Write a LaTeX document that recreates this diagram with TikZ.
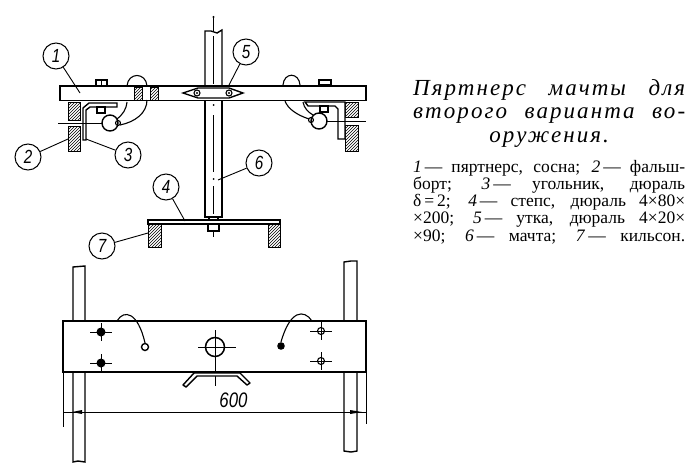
\documentclass[tikz,border=0pt]{standalone}
\usepackage{fontspec}
\setmainfont{Liberation Serif}
\setsansfont{Liberation Sans}
\newfontfamily\letratitulo[LetterSpace=9]{Liberation Serif}
\usetikzlibrary{patterns}
\newcommand{\cifra}[1]{\scalebox{.8}[1]{\sffamily\itshape\fontsize{19}{19}\selectfont #1}}
\begin{document}
\begin{tikzpicture}[x=1pt,y=-1pt]
\tikzset{
    pieza/.style={draw, line width=1.4pt, fill=white},
    rayado/.style={draw, line width=1pt, pattern=north east lines},
    eje/.style={line width=0.6pt},
    cable/.style={line width=1.1pt},
    numero/.style={draw, circle, line width=1pt, minimum size=26pt, inner sep=0pt, fill=white},
    guia/.style={line width=0.9pt},
    titulo/.style={inner sep=0pt, align=left, font=\letratitulo\itshape\fontsize{23}{23.5}\selectfont},
    leyenda/.style={inner sep=0pt, align=left, font=\fontsize{17.5}{17.2}\selectfont}
}
\useasboundingbox (0,0) rectangle (700,471);
% vista superior
\draw[pieza] (205,31) -- (205,86) -- (222,86) -- (222,30) -- (217,33) -- (211,31) -- cycle;
\draw[eje] (213.5,17) -- (213.5,31);
\fill (213.5,17) circle (1.2pt);
\draw[eje] (213.5,36) -- (213.5,84);
\draw[pieza] (205,100) rectangle (222,217);
\fill (213.5,105) circle (1pt) (213.5,179) circle (1pt);
\draw[eje] (213.5,115) -- (213.5,172) (213.5,186) -- (213.5,214);
% palmejar
\draw[pieza] (60,86) rectangle (366,100.5);
\draw[pieza] (96,80) rectangle (107,86);
\draw[eje] (101.5,80) -- (101.5,86);
\draw[pieza] (319,80) rectangle (331,85);
\draw[rayado] (134,87) rectangle (142,100);
\draw[rayado] (150,87) rectangle (158,100);
\draw[pieza] (183,93) -- (198,88) -- (229,88) -- (243,93) -- (229,98) -- (198,98) -- cycle;
\draw[cable] (197,93) circle (3pt);
\draw[cable] (229,93) circle (3pt);
\fill (197,93) circle (1.2pt) (229,93) circle (1.2pt);
% izquierda
\draw[rayado] (68,102) rectangle (80,120);
\draw[rayado] (68,126) rectangle (80,151);
\draw[pieza] (117,103) -- (89,103) -- (83,108) -- (83,140) -- (86,140) -- (86,110) -- (90,107) -- (117,107) -- cycle;
\draw[pieza] (97,107) rectangle (105,113);
\draw[eje] (58,123) -- (102,123);
\draw[pieza] (110,123) circle (8pt);
\draw[cable] (118,123) circle (2.5pt);
\draw[cable] (127,86) .. controls (128,72) and (146,72) .. (147,86);
\draw[cable] (147,100) .. controls (147,113) and (135,122) .. (120,125);
\draw[cable] (127,102) .. controls (126,110) and (123,114) .. (117,119);
% derecha
\draw[rayado] (345,102) rectangle (358,117);
\draw[rayado] (345,125) rectangle (358,151);
\draw[pieza] (305,102) -- (345,102) -- (345,139) -- (338,139) -- (338,109) -- (335,106) -- (308,106) -- cycle;
\draw[pieza] (320,106) rectangle (328,112);
\draw[eje] (326,121) -- (366,121);
\draw[pieza] (319,121) circle (8pt);
\draw[cable] (311,120) circle (2.5pt);
\draw[cable] (283,85) .. controls (284,72) and (299,72) .. (300,85);
\draw[cable] (285,101) .. controls (288,109) and (297,115) .. (309,119);
\draw[cable] (303,102) .. controls (304,108) and (308,112) .. (313,115);
% carlinga
\draw[pieza] (148,220) rectangle (280,224);
\draw[rayado] (148,224) rectangle (161,247);
\draw[rayado] (268,224) rectangle (280,247);
\draw[pieza] (209,217) rectangle (218,220);
\draw[pieza] (208,224) rectangle (219,231);
\draw[eje] (213.5,231) -- (213.5,237);
% vista inferior
\draw[pieza] (73,267) -- (85,266) -- (85,462) -- (78,461) -- (73,462) -- cycle;
\draw[pieza] (344,262) -- (351,261) -- (357,261) -- (357,451) -- (351,452) -- (344,451) -- cycle;
\draw[pieza] (63,321) rectangle (366,372);
\foreach \x/\y in {101/332,101/363}{
    \fill (\x,\y) circle (4.5pt);
    \draw[eje] (\x-11,\y) -- (\x+11,\y) (\x,\y-9) -- (\x,\y+9);
}
\foreach \x/\y in {321/331,321/361}{
    \draw[cable] (\x,\y) circle (3.5pt);
    \draw[eje] (\x-11,\y) -- (\x+11,\y) (\x,\y-9) -- (\x,\y+9);
}
\draw[line width=1.5pt] (215,347) circle (9.5pt);
\draw[eje] (198,347) -- (236,347) (215,330) -- (215,386);
\draw[line width=1.4pt] (145,347) circle (3.5pt);
\fill (281,346) circle (3.8pt);
\draw[cable] (117,321) .. controls (124,309) and (138,312) .. (145,343);
\draw[cable] (312,321) .. controls (304,309) and (290,310) .. (281,342);
\draw[pieza, line join=round] (183,385) -- (194,373) -- (240,373) -- (250,383) -- (247,385) -- (237,376) -- (197,376) -- (186,387) -- cycle;
% cota
\draw[eje] (63,372) -- (63,427) (366,372) -- (366,424);
\draw[guia] (63,412) -- (366,412);
\fill (72,412) -- (82,410) -- (82,414) -- cycle;
\fill (362,412) -- (350,410) -- (350,414) -- cycle;
\node[font=\sffamily\itshape\fontsize{21}{21}\selectfont, xscale=.8, inner sep=0pt] (cota) at (233.5,400.5) {600};
% numeros
\node[numero] (n1) at (56,56) {\cifra{1}};
\node[numero] (n2) at (28,157) {\cifra{2}};
\node[numero] (n3) at (128,155) {\cifra{3}};
\node[numero] (n4) at (166,187) {\cifra{4}};
\node[numero] (n5) at (246,52) {\cifra{5}};
\node[numero] (n6) at (259,163) {\cifra{6}};
\node[numero] (n7) at (102,246) {\cifra{7}};
\coordinate (p1) at (80,93);
\coordinate (p2) at (68,139);
\coordinate (p3) at (86,139);
\coordinate (p4) at (185,221);
\coordinate (p5) at (228,87);
\coordinate (p6) at (218,180);
\coordinate (p7) at (148,233);
\foreach \i in {1,...,7}{
    \draw[guia] (n\i) -- (p\i);
}
% texto
\node[titulo, anchor=base west] (tit) at (413,142) {\makebox[272pt][s]{Пяртнерс мачты для}\\ \makebox[272pt][s]{второго варианта во-}\\ \makebox[272pt][c]{оружения.}};
\node[leyenda, anchor=base west] (ley) at (413,241) {\makebox[272pt][s]{\textit{1}\,— пяртнерс, сосна; \textit{2}\,— фальш-}\\ \makebox[272pt][s]{борт; \textit{3}\,— угольник, дюраль}\\ \makebox[272pt][s]{δ\,=\,2; \textit{4}\,— степс, дюраль 4×80×}\\ \makebox[272pt][s]{×200; \textit{5}\,— утка, дюраль 4×20×}\\ \makebox[272pt][s]{×90; \textit{6}\,— мачта; \textit{7}\,— кильсон.}};
\end{tikzpicture}
\end{document}
